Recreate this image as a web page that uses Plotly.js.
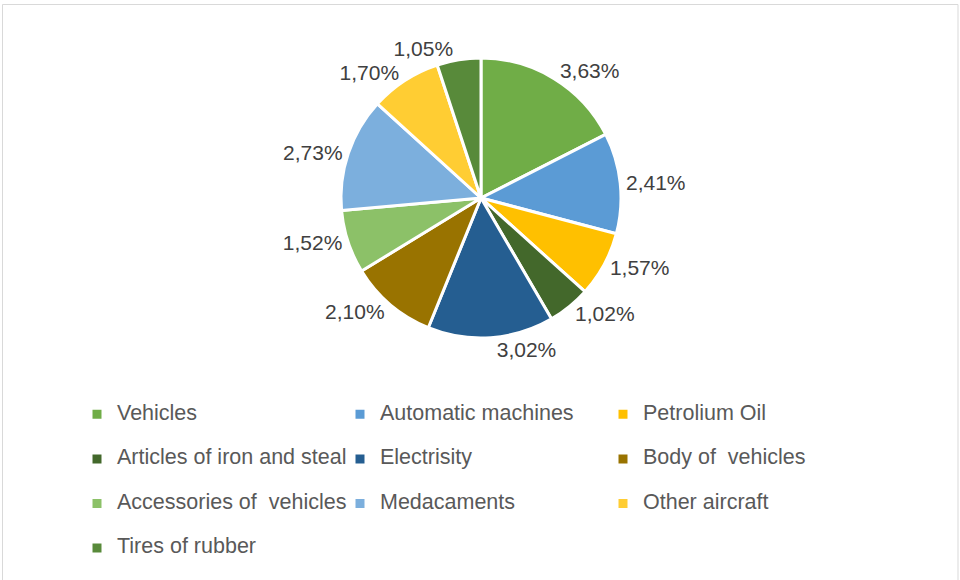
<!DOCTYPE html>
<html>
<head>
<meta charset="utf-8">
<script src="https://cdn.plot.ly/plotly-3.0.1.min.js"></script>
<style>
  html, body { margin: 0; padding: 0; background: #ffffff; }
  #chart { width: 960px; height: 580px; }
</style>
</head>
<body>
<div id="chart"></div>
<script>
const categories = [
  "Vehicles", "Automatic machines", "Petrolium Oil",
  "Articles of iron and steal", "Electrisity", "Body of  vehicles",
  "Accessories of  vehicles", "Medacaments", "Other aircraft",
  "Tires of rubber"
];
const shares = [3.63, 2.41, 1.57, 1.02, 3.02, 2.10, 1.52, 2.73, 1.70, 1.05];
const shareLabels = ["3,63%", "2,41%", "1,57%", "1,02%", "3,02%", "2,10%", "1,52%", "2,73%", "1,70%", "1,05%"];
const sliceColors = [
  "#70AD47", "#5B9BD5", "#FFC000", "#43682B", "#255E91",
  "#997300", "#8CC168", "#7CAFDD", "#FFCD33", "#588A3A"
];

const W = 960, H = 580;
const cx = 481, cy = 198, r = 140;

// legend entries: row height from a 32px legend font, visible text at 21.5px, raised slightly
const legendText = categories.map(c =>
  '<span style="font-size:17px"><sup><span style="font-size:21.5px">' + c + '</span></sup></span>'
);

const trace = {
  type: "pie",
  labels: legendText,
  values: shares,
  text: shareLabels,
  textinfo: "text",
  textposition: "outside",
  sort: false,
  direction: "clockwise",
  rotation: 0,
  marker: { colors: sliceColors, line: { color: "#ffffff", width: 3 } },
  outsidetextfont: { family: "Liberation Sans, Arial, sans-serif", size: 21, color: "#404040" },
  hoverinfo: "text",
  domain: {
    x: [(cx - r) / W, (cx + r) / W],
    y: [(H - cy - r) / H, (H - cy + r) / H]
  }
};

const layout = {
  width: W,
  height: H,
  margin: { l: 0, r: 0, t: 0, b: 0 },
  paper_bgcolor: "#ffffff",
  font: { family: "Liberation Sans, Arial, sans-serif", color: "#595959" },
  showlegend: true,
  legend: {
    orientation: "h",
    x: 77 / W,
    xanchor: "left",
    y: (H - 387) / H,
    yanchor: "top",
    font: { size: 32, color: "#595959", family: "Liberation Sans, Arial, sans-serif" },
    entrywidth: 218,
    entrywidthmode: "pixels",
    traceorder: "normal"
  },
  shapes: [{
    type: "rect", xref: "paper", yref: "paper",
    x0: 2.5 / W, x1: 958 / W, y0: -0.05, y1: (H - 4.5) / H,
    line: { color: "#d9d9d9", width: 1 }, fillcolor: "rgba(0,0,0,0)"
  }]
};

Plotly.newPlot("chart", [trace], layout, { displayModeBar: false, staticPlot: true });
</script>
</body>
</html>
